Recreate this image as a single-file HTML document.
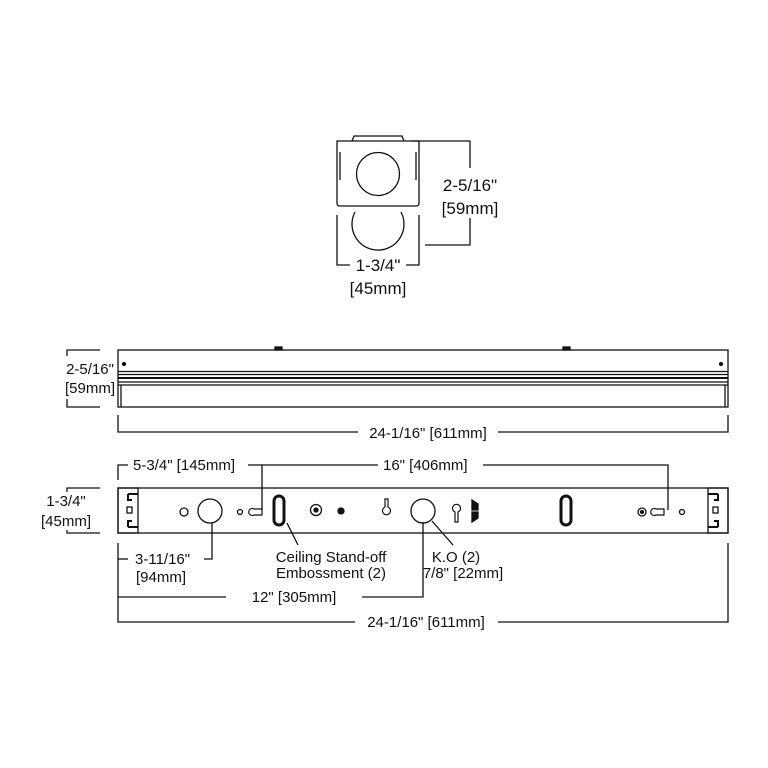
<!DOCTYPE html>
<html><head><style>
html,body{margin:0;padding:0;background:#fff;}
svg{display:block;}
text{font-family:"Liberation Sans",sans-serif;fill:#111;}
</style></head><body>
<svg width="768" height="768" viewBox="0 0 768 768" xmlns="http://www.w3.org/2000/svg">
<g fill="none" stroke="#111" stroke-width="1.3">
<!-- top end view -->
<path d="M352 141 L354 136 L402 136 L404 141"/>
<path d="M337 141 L419 141 L419 203 Q419 206 416 206 L340 206 Q337 206 337 203 Z"/>
<line x1="340" y1="152" x2="340" y2="180"/><line x1="416" y1="152" x2="416" y2="180"/>
<circle cx="378" cy="174" r="21.5"/>
<path d="M355 212 A26 26 0 1 0 401 212"/>
<!-- top dims -->
<polyline points="411,141 470,141 470,168"/>
<polyline points="470,218 470,245 425,245"/>
<polyline points="337,215 337,265 350,265"/>
<polyline points="406,265 419,265 419,215"/>

<!-- side view -->
<rect x="118" y="350" width="610" height="57"/>
<line x1="118" y1="371.5" x2="728" y2="371.5"/>
<line x1="118" y1="374.5" x2="728" y2="374.5"/>
<line x1="118" y1="378" x2="728" y2="378" stroke-width="2"/>
<line x1="118" y1="382" x2="728" y2="382"/>
<line x1="118" y1="385" x2="728" y2="385"/>
<line x1="121" y1="385" x2="121" y2="407"/><line x1="725" y1="385" x2="725" y2="407"/>
<rect x="275" y="347" width="7" height="3" fill="#111"/>
<rect x="563" y="347" width="7" height="3" fill="#111"/>
<circle cx="124" cy="364" r="1.5" fill="#111"/><circle cx="721" cy="364" r="1.5" fill="#111"/>
<polyline points="100,350 67,350 67,356"/>
<polyline points="67,399 67,407 100,407"/>
<polyline points="118,415 118,432 358,432"/>
<polyline points="498,432 728,432 728,415"/>

<!-- front view -->
<rect x="118" y="488" width="610" height="45"/>
<rect x="118" y="488" width="20" height="45"/>
<rect x="708" y="488" width="20" height="45"/>
<path d="M128 494 h10 M128 494 v6 h4 M128 527 h10 M128 527 v-6 h4" stroke-width="2"/>
<rect x="127" y="507" width="5" height="6"/>
<path d="M718 494 h-10 M718 494 v6 h-4 M718 527 h-10 M718 527 v-6 h-4" stroke-width="2"/>
<rect x="713" y="507" width="5" height="6"/>
<circle cx="184" cy="512" r="4"/>
<circle cx="210" cy="511" r="12"/>
<circle cx="240" cy="512" r="2.5"/>
<path d="M254 509 a3.5 3.5 0 1 0 0 6 h8 v-6 Z" stroke-width="1.2"/>
<rect x="274" y="496" width="10" height="29" rx="5" stroke-width="3"/>
<circle cx="316" cy="510" r="5.5"/><circle cx="316" cy="510" r="2" fill="#111"/>
<circle cx="341" cy="511" r="3" fill="#111"/>
<path d="M385 499 v8 a4 4 0 1 0 3 0 v-8 Z" stroke-width="1.2"/>
<circle cx="423" cy="511" r="12"/>
<path d="M455 522 v-10 a4 4 0 1 1 3 0 v10 Z" stroke-width="1.2"/>
<path d="M472 500 l6 4 v6 h-6 Z M472 512 h6 v6 l-6 4 Z" fill="#111"/>
<rect x="561" y="496" width="10" height="29" rx="5" stroke-width="3"/>
<circle cx="642" cy="512" r="4"/><circle cx="642" cy="512" r="1.5" fill="#111"/>
<path d="M656 509 a3.5 3.5 0 1 0 0 6 h8 v-6 Z" stroke-width="1.2"/>
<circle cx="682" cy="512" r="2.5"/>
<!-- front dims -->
<polyline points="118,480 118,465 128,465"/>
<polyline points="248,465 262,465 262,510"/>
<polyline points="262,465 378,465"/>
<polyline points="483,465 668,465 668,510"/>
<polyline points="100,488 67,488 67,492"/>
<polyline points="67,530 67,533 100,533"/>
<polyline points="118,543 118,622 355,622"/>
<polyline points="498,622 728,622 728,543"/>
<line x1="118" y1="559" x2="128" y2="559"/>
<polyline points="204,559 212,559 212,523"/>
<line x1="118" y1="597" x2="226" y2="597"/>
<polyline points="362,597 423,597 423,522"/>
<line x1="287" y1="523" x2="298" y2="545"/>
<line x1="432" y1="521" x2="453" y2="545"/>
</g>
<g font-size="17">
<text x="470" y="191" text-anchor="middle">2-5/16"</text>
<text x="470" y="214" text-anchor="middle">[59mm]</text>
<text x="378" y="271" text-anchor="middle">1-3/4"</text>
<text x="378" y="294" text-anchor="middle">[45mm]</text>
</g>
<g font-size="15">
<text x="90" y="374" text-anchor="middle">2-5/16"</text>
<text x="90" y="393" text-anchor="middle">[59mm]</text>
<text x="428" y="438" text-anchor="middle">24-1/16" [611mm]</text>
<text x="133" y="470">5-3/4" [145mm]</text>
<text x="383" y="470">16" [406mm]</text>
<text x="66" y="506" text-anchor="middle">1-3/4"</text>
<text x="66" y="526" text-anchor="middle">[45mm]</text>
<text x="135" y="564">3-11/16"</text>
<text x="136" y="582">[94mm]</text>
<text x="294" y="602" text-anchor="middle">12" [305mm]</text>
<text x="426" y="627" text-anchor="middle">24-1/16" [611mm]</text>
<text x="331" y="562" text-anchor="middle">Ceiling Stand-off</text>
<text x="331" y="578" text-anchor="middle">Embossment (2)</text>
<text x="456" y="562" text-anchor="middle">K.O (2)</text>
<text x="463" y="578" text-anchor="middle">7/8" [22mm]</text>
</g>
</svg>
</body></html>
